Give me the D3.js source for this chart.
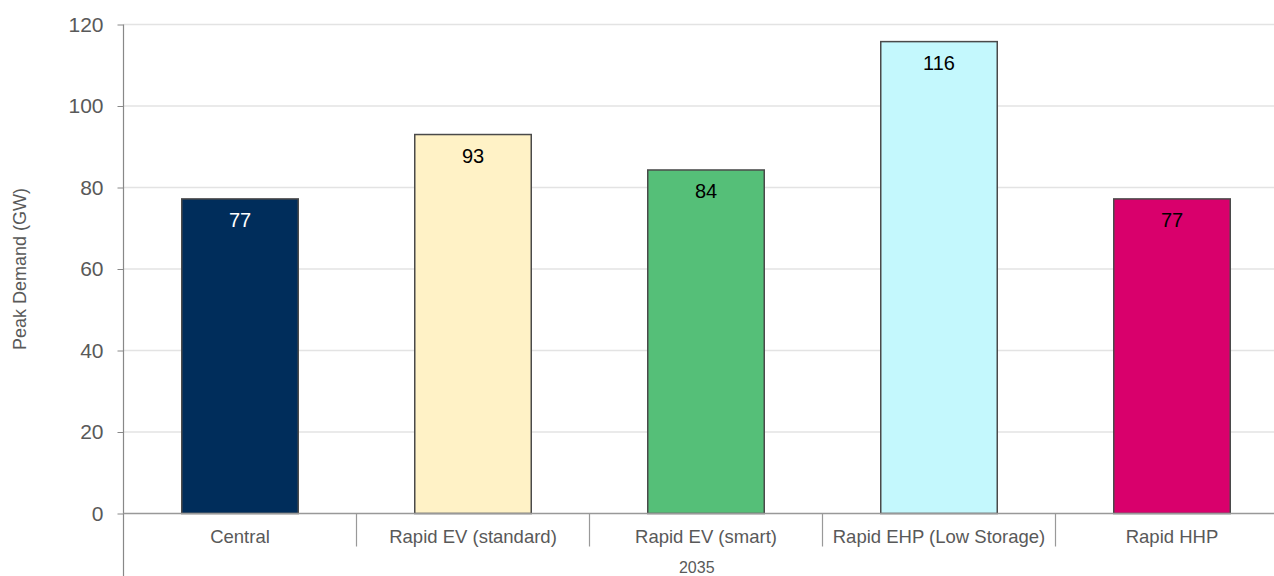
<!DOCTYPE html>
<html>
<head>
<meta charset="utf-8">
<script src="https://cdn.jsdelivr.net/npm/d3@7"></script>
<style>
  body { margin: 0; background: #fff; }
  text { font-family: "Liberation Sans", Arial, sans-serif; }
</style>
</head>
<body>
<svg id="chart"></svg>
<script>
const scenarios = ["Central", "Rapid EV (standard)", "Rapid EV (smart)", "Rapid EHP (Low Storage)", "Rapid HHP"];
const peakDemand = [77.2, 93, 84.3, 115.8, 77.2];
const barColors = ["#002d5b", "#fff2c6", "#55bf78", "#c4f8fd", "#d9006c"];
const labelColors = ["#ffffff", "#000000", "#000000", "#000000", "#000000"];
const yTicks = [0, 20, 40, 60, 80, 100, 120];
const groupLabel = "2035";
const yTitle = "Peak Demand (GW)";

const data = scenarios.map((s, i) => ({ name: s, value: peakDemand[i], fill: barColors[i], label: labelColors[i] }));

const width = 1274, height = 576;
const margin = { top: 24.5, left: 123.5, bottom: 62.5 };
const plotW = 233 * 5;

const svg = d3.select("#chart").attr("width", width).attr("height", height);

const x = d3.scaleBand()
  .domain(scenarios)
  .range([margin.left, margin.left + plotW])
  .paddingInner(0)
  .paddingOuter(0);

const y = d3.scaleLinear()
  .domain([0, 120])
  .range([height - margin.bottom, margin.top]);

// gridlines
svg.append("g")
  .selectAll("line")
  .data(yTicks.filter(d => d > 0))
  .join("line")
  .attr("x1", margin.left)
  .attr("x2", width)
  .attr("y1", d => y(d))
  .attr("y2", d => y(d))
  .attr("stroke", "#e3e3e3")
  .attr("stroke-width", 1.5);

// y axis
const yAxis = svg.append("g")
  .attr("transform", `translate(${margin.left},0)`)
  .call(d3.axisLeft(y).tickValues(yTicks).tickSize(6).tickPadding(14))
  .call(g => g.select(".domain").remove());
yAxis.selectAll(".tick line").attr("stroke", "#888");
yAxis.selectAll(".tick text")
  .attr("fill", "#595959")
  .style("font-size", "21px")
  .style("font-family", "'Liberation Sans', Arial, sans-serif");

// vertical axis line running down to the bottom
svg.append("line")
  .attr("x1", margin.left).attr("x2", margin.left)
  .attr("y1", margin.top).attr("y2", height)
  .attr("stroke", "#888").attr("stroke-width", 1.2);

// bars
const bw = x.bandwidth() * 0.5;
svg.append("g")
  .selectAll("rect")
  .data(data)
  .join("rect")
  .attr("x", d => x(d.name) + (x.bandwidth() - bw) / 2)
  .attr("y", d => y(d.value))
  .attr("width", bw)
  .attr("height", d => y(0) - y(d.value))
  .attr("fill", d => d.fill)
  .attr("stroke", "#4a4a4a")
  .attr("stroke-width", 1.5);

// value labels
svg.append("g")
  .selectAll("text")
  .data(data)
  .join("text")
  .attr("x", d => x(d.name) + x.bandwidth() / 2)
  .attr("y", d => y(d.value) + 21)
  .attr("text-anchor", "middle")
  .attr("dominant-baseline", "central")
  .attr("fill", d => d.label)
  .style("font-size", "20px")
  .text(d => Math.round(d.value));

// x axis baseline
svg.append("line")
  .attr("x1", margin.left).attr("x2", width)
  .attr("y1", y(0)).attr("y2", y(0))
  .attr("stroke", "#999").attr("stroke-width", 1.5);

// category dividers
svg.append("g")
  .selectAll("line")
  .data(scenarios.slice(1))
  .join("line")
  .attr("x1", d => x(d)).attr("x2", d => x(d))
  .attr("y1", y(0)).attr("y2", y(0) + 33)
  .attr("stroke", "#999").attr("stroke-width", 1.2);

// category labels
svg.append("g")
  .selectAll("text")
  .data(scenarios)
  .join("text")
  .attr("x", d => x(d) + x.bandwidth() / 2)
  .attr("y", y(0) + 23)
  .attr("text-anchor", "middle")
  .attr("dominant-baseline", "central")
  .attr("fill", "#595959")
  .style("font-size", "18.5px")
  .text(d => d);

// group label
svg.append("text")
  .attr("x", margin.left + (width - margin.left) / 2 - 2)
  .attr("y", 567)
  .attr("text-anchor", "middle")
  .attr("dominant-baseline", "central")
  .attr("fill", "#595959")
  .style("font-size", "16px")
  .text(groupLabel);

// y title
svg.append("text")
  .attr("transform", `translate(20,${(y(0) + y(120)) / 2}) rotate(-90)`)
  .attr("text-anchor", "middle")
  .attr("dominant-baseline", "central")
  .attr("fill", "#595959")
  .style("font-size", "18px")
  .text(yTitle);
</script>
</body>
</html>
